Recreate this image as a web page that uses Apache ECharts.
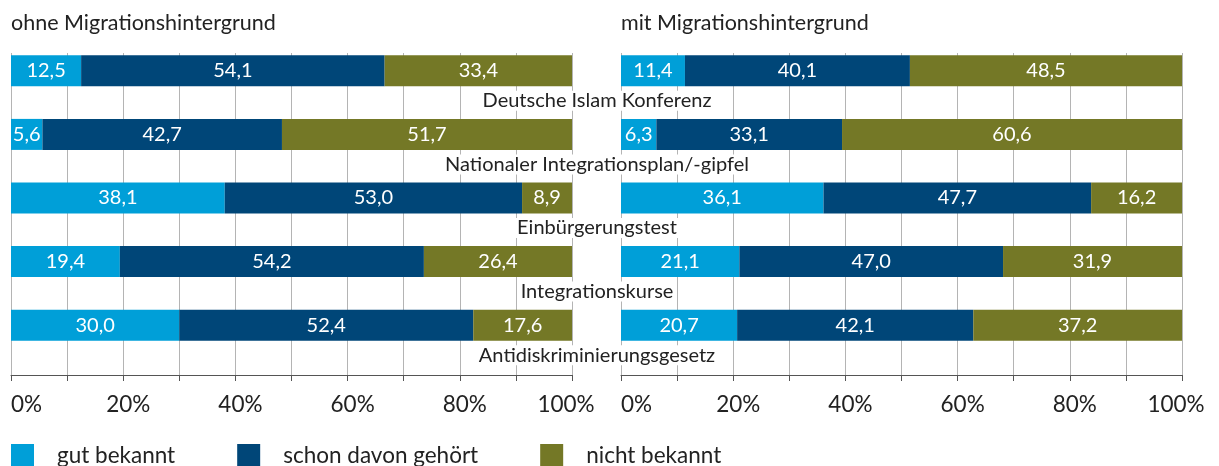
<!DOCTYPE html>
<html><head><meta charset="utf-8">
<script src="https://cdn.jsdelivr.net/npm/echarts@6/dist/echarts.min.js"></script>
<style>html,body{margin:0;padding:0;background:#fff}#c{width:1219px;height:466px}</style>
</head><body><div id="c"></div>
<script>
const categories = ['Deutsche Islam Konferenz','Nationaler Integrationsplan/-gipfel','Einbürgerungstest','Integrationskurse','Antidiskriminierungsgesetz'];
const seriesNames = ['gut bekannt','schon davon gehört','nicht bekannt'];
const panelTitles = ['ohne Migrationshintergrund','mit Migrationshintergrund'];
const ohneGut = [12.5, 5.6, 38.1, 19.4, 30.0];
const ohneSchon = [54.1, 42.7, 53.0, 54.2, 52.4];
const ohneNicht = [33.4, 51.7, 8.9, 26.4, 17.6];
const mitGut = [11.4, 6.3, 36.1, 21.1, 20.7];
const mitSchon = [40.1, 33.1, 47.7, 47.0, 42.1];
const mitNicht = [48.5, 60.6, 16.2, 31.9, 37.2];
const colors = ['#009fd8','#004678','#747826'];
const FONT = 'Lato';

const fmt = v => v.toFixed(1).replace('.', ',');
const L = [11, 621], W = 561;
const grids = [], xAxes = [], yAxes = [], series = [];
L.forEach(l => grids.push({left: l, width: W, top: 39, height: 318, outerBoundsMode: 'none', containLabel: false}));
L.forEach(l => grids.push({left: l, width: W, top: 53, height: 322, outerBoundsMode: 'none', containLabel: false}));
grids.push({left: L[1], width: W, top: 69, height: 318, outerBoundsMode: 'none', containLabel: false});
for (let i = 0; i < 2; i++) {
  xAxes.push({gridIndex: i, type: 'value', min: 0, max: 100, show: false});
  yAxes.push({gridIndex: i, type: 'category', data: categories, inverse: true, show: false});
}
for (let i = 0; i < 2; i++) {
  xAxes.push({gridIndex: 2 + i, type: 'value', min: 0, max: 100, interval: 20,
    axisLine: {show: true, lineStyle: {color: '#555', width: 1}},
    axisTick: {show: true, length: 6, lineStyle: {color: '#555'}},
    minorTick: {show: true, splitNumber: 2, length: 6, lineStyle: {color: '#555'}},
    splitLine: {show: true, lineStyle: {color: '#b4b4b4', width: 1}},
    minorSplitLine: {show: true, lineStyle: {color: '#b4b4b4', width: 1}},
    axisLabel: {margin: 18, fontSize: 22.5, color: '#222', fontFamily: FONT,
      alignMinLabel: 'left',
      formatter: v => v === 0 ? '{a|0%}' : v === 100 ? '{c|100%}' : '{b|' + v + '%}',
      rich: {a: {fontSize: 22.5, fontFamily: FONT, color: '#222'},
             b: {fontSize: 22.5, fontFamily: FONT, color: '#222', padding: [0, 0, 0, 10]},
             c: {fontSize: 22.5, fontFamily: FONT, color: '#222', padding: [0, 12, 0, 0]}}}
  });
  yAxes.push({gridIndex: 2 + i, type: 'value', show: false, min: 0, max: 1});
}
xAxes.push({gridIndex: 4, type: 'value', min: 0, max: 100, show: false});
yAxes.push({gridIndex: 4, type: 'category', data: categories, inverse: true, z: 5,
  axisLine: {show: false}, axisTick: {show: false}, splitLine: {show: false},
  axisLabel: {align: 'center', margin: 24, fontSize: 20, color: '#222', fontFamily: FONT,
    backgroundColor: '#fff', padding: [0, 3]}
});
const data = [[ohneGut, ohneSchon, ohneNicht], [mitGut, mitSchon, mitNicht]];
for (let p = 0; p < 2; p++) {
  for (let s = 0; s < 3; s++) {
    series.push({type: 'bar', name: seriesNames[s], stack: 'p' + p, xAxisIndex: p, yAxisIndex: p,
      data: data[p][s], barWidth: 31, itemStyle: {color: colors[s]},
      label: {show: true, position: 'inside', color: '#fff', fontSize: 20, fontFamily: FONT, formatter: o => fmt(o.value)}
    });
  }
}
const chart = echarts.init(document.getElementById('c'), null, {renderer: 'canvas'});
chart.setOption({
  animation: false,
  title: panelTitles.map((t, i) => ({text: t, left: L[i], top: 12, padding: 0,
    textStyle: {fontSize: 21.5, fontWeight: 'normal', color: '#222', fontFamily: FONT}})),
  grid: grids, xAxis: xAxes, yAxis: yAxes, series: series,
  legend: {left: 11, top: 444, padding: 0, itemWidth: 23, itemHeight: 23, itemGap: 62, icon: 'rect',
    data: seriesNames, textStyle: {fontSize: 22.5, color: '#222', fontFamily: FONT, padding: [0, 0, 0, 18]}}
});
</script></body></html>
